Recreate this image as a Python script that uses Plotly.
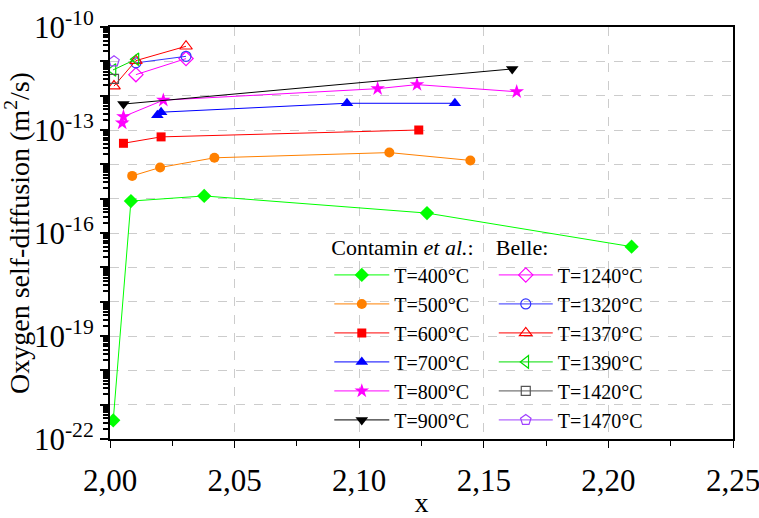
import plotly.graph_objects as go

# ---- Contamin et al. (filled markers) ----
x400 = [2.0013, 2.0084, 2.0378, 2.1272, 2.2093]
y400 = [3.5e-22, 8.5e-16, 1.2e-15, 3.8e-16, 4.0e-17]
x500 = [2.0089, 2.0201, 2.0419, 2.1121, 2.1446]
y500 = [4.6e-15, 8.1e-15, 1.55e-14, 2.2e-14, 1.3e-14]
x600 = [2.0054, 2.0205, 2.1239]
y600 = [4.1e-14, 6.3e-14, 1.0e-13]
x700 = [2.0190, 2.0205, 2.0951, 2.1384]
y700 = [2.7e-13, 3.3e-13, 6.0e-13, 6.0e-13]
x800 = [2.0049, 2.0054, 2.0214, 2.1074, 2.1232, 2.1632]
y800 = [1.6e-13, 2.45e-13, 7.4e-13, 1.6e-12, 2.1e-12, 1.3e-12]
x900 = [2.0054, 2.1614]
y900 = [5.7e-13, 6.0e-12]

# ---- Belle (open markers) ----
x1240 = [2.0104, 2.0305]
y1240 = [4.1e-12, 1.2e-11]
x1320 = [2.0104, 2.0305]
y1320 = [9.0e-12, 1.4e-11]
x1370 = [2.0016, 2.0104, 2.0305]
y1370 = [1.9e-12, 1.05e-11, 2.75e-11]
x1390 = [2.0012, 2.0104]
y1390 = [5.6e-12, 1.15e-11]
x1420 = [2.0016]
y1420 = [3.1e-12]
x1470 = [2.0016]
y1470 = [1.0e-11]

contamin_labels = ["T=400°C", "T=500°C", "T=600°C", "T=700°C", "T=800°C", "T=900°C"]
belle_labels = ["T=1240°C", "T=1320°C", "T=1370°C", "T=1390°C", "T=1420°C", "T=1470°C"]

x_ticks = [2.00, 2.05, 2.10, 2.15, 2.20, 2.25]
y_decades = list(range(-22, -9))

FONT = "Liberation Serif, Times New Roman, serif"

fig = go.Figure()

contamin = [
    (x400, y400, "#00ff00", "diamond", 11),
    (x500, y500, "#ff8000", "circle", 10),
    (x600, y600, "#ff0000", "square", 9),
    (x700, y700, "#0000ff", "triangle-up", 11),
    (x800, y800, "#ff00ff", "star", 11),
    (x900, y900, "#000000", "triangle-down", 11),
]
for (xs, ys, c, sym, sz), name in zip(contamin, contamin_labels):
    fig.add_trace(go.Scatter(
        x=xs, y=ys, name=name, mode="lines+markers",
        line=dict(color=c, width=1),
        marker=dict(symbol=sym, color=c, size=sz),
        legend="legend",
    ))

belle = [
    (x1240, y1240, "#ff00ff", "diamond-open", 11),
    (x1320, y1320, "#3333ff", "circle-open", 10),
    (x1370, y1370, "#ff0000", "triangle-up-open", 11),
    (x1390, y1390, "#00dd00", "triangle-left-open", 11),
    (x1420, y1420, "#555555", "square-open", 9),
    (x1470, y1470, "#a040ff", "pentagon-open", 11),
]
for (xs, ys, c, sym, sz), name in zip(belle, belle_labels):
    fig.add_trace(go.Scatter(
        x=xs, y=ys, name=name, mode="lines+markers",
        line=dict(color=c, width=1),
        marker=dict(symbol=sym, color=c, size=sz, line=dict(color=c, width=1.2)),
        legend="legend2",
    ))

yvals = [10.0 ** d for d in y_decades]
ytext = [("10<sup>%d</sup>" % d) if (d + 22) % 3 == 0 else " " for d in y_decades]
yminor = [m * 10.0 ** d for d in y_decades[:-1] for m in range(2, 10)]

fig.update_layout(
    width=759, height=518,
    paper_bgcolor="white", plot_bgcolor="white",
    margin=dict(l=110, r=26, t=27, b=79),
    separators=", ",
    font=dict(family=FONT, color="black", size=20),
    legend=dict(
        x=0.352, y=0.515, xanchor="left", yanchor="top",
        bgcolor="rgba(0,0,0,0)", font=dict(family=FONT, size=20),
        title=dict(text="Contamin <i>et al.</i>:", font=dict(family=FONT, size=22)),
        tracegroupgap=0, itemwidth=55,
    ),
    legend2=dict(
        x=0.616, y=0.515, xanchor="left", yanchor="top",
        bgcolor="rgba(0,0,0,0)", font=dict(family=FONT, size=20),
        title=dict(text="Belle:", font=dict(family=FONT, size=22)),
        tracegroupgap=0, itemwidth=54,
    ),
    xaxis=dict(
        range=[2.0, 2.25], tickvals=x_ticks, tickformat=".2f",
        ticks="outside", ticklen=7, tickwidth=1.2, tickcolor="black",
        tickfont=dict(family=FONT, size=31), ticklabelstandoff=6,
        ticklabeloverflow="allow",
        minor=dict(dtick=0.025, tick0=2.0, ticks="outside", ticklen=5, tickcolor="black", showgrid=False),
        showgrid=True, gridcolor="#cccccc", griddash="dash", gridwidth=1,
        showline=True, linecolor="black", linewidth=2, mirror=True,
        zeroline=False, automargin=False,
        title=dict(text="x", font=dict(family=FONT, size=28), standoff=2),
    ),
    yaxis=dict(
        type="log", range=[-22, -10],
        tickvals=yvals, ticktext=ytext,
        ticks="outside", ticklen=8, tickwidth=1.5, tickcolor="black",
        tickfont=dict(family=FONT, size=31), ticklabeloverflow="allow",
        minor=dict(tickvals=yminor, ticks="outside", ticklen=5, tickcolor="black", showgrid=False),
        showgrid=True, gridcolor="#cccccc", griddash="dash", gridwidth=1,
        showline=True, linecolor="black", linewidth=2, mirror=True,
        zeroline=False, automargin=False,
        title=dict(text="Oxygen self-diffusion (m<sup>2</sup>/s)", font=dict(family=FONT, size=28), standoff=2),
    ),
)

fig.write_html("out.html", config={"displayModeBar": False},
               post_script="document.body.style.margin='0';document.body.style.overflow='hidden';")
